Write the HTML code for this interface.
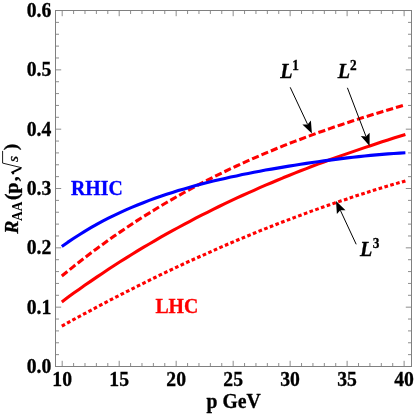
<!DOCTYPE html>
<html><head><meta charset="utf-8"><style>
html,body{margin:0;padding:0;background:#fff;}
svg{display:block;will-change:transform;font-family:"Liberation Serif",serif;font-weight:bold;}
text{stroke-width:0.3px;}
</style></head><body>
<svg width="415" height="415" viewBox="0 0 415 415">
<rect width="415" height="415" fill="#fff"/>
<g fill="none" stroke-linecap="butt" stroke-linejoin="round">
<path d="M61.8,326.2 L67.6,322.9 L73.4,319.7 L79.3,316.5 L85.1,313.4 L90.9,310.3 L96.7,307.2 L102.6,304.1 L108.4,301.0 L114.2,298.0 L120.0,295.0 L125.9,292.0 L131.7,289.1 L137.5,286.2 L143.3,283.3 L149.2,280.4 L155.0,277.5 L160.8,274.7 L166.6,271.9 L172.5,269.2 L178.3,266.4 L184.1,263.7 L189.9,261.0 L195.7,258.4 L201.6,255.8 L207.4,253.2 L213.2,250.6 L219.0,248.0 L224.9,245.5 L230.7,243.0 L236.5,240.5 L242.3,238.1 L248.2,235.7 L254.0,233.3 L259.8,230.9 L265.6,228.6 L271.5,226.3 L277.3,224.0 L283.1,221.8 L288.9,219.6 L294.7,217.4 L300.6,215.2 L306.4,213.1 L312.2,210.9 L318.0,208.9 L323.9,206.8 L329.7,204.8 L335.5,202.8 L341.3,200.8 L347.2,198.9 L353.0,196.9 L358.8,195.0 L364.6,193.2 L370.5,191.3 L376.3,189.5 L382.1,187.8 L387.9,186.0 L393.8,184.3 L399.6,182.6 L405.4,180.9" stroke="#f00" stroke-width="3.1" stroke-dasharray="3.65,2.42"/>
<path d="M61.8,301.9 L67.6,297.6 L73.4,293.3 L79.3,289.2 L85.1,285.1 L90.9,281.1 L96.7,277.1 L102.6,273.2 L108.4,269.3 L114.2,265.5 L120.0,261.8 L125.9,258.1 L131.7,254.5 L137.5,250.9 L143.3,247.4 L149.2,244.0 L155.0,240.6 L160.8,237.2 L166.6,233.9 L172.5,230.7 L178.3,227.5 L184.1,224.4 L189.9,221.3 L195.7,218.2 L201.6,215.2 L207.4,212.3 L213.2,209.4 L219.0,206.5 L224.9,203.7 L230.7,200.9 L236.5,198.2 L242.3,195.5 L248.2,192.9 L254.0,190.3 L259.8,187.7 L265.6,185.2 L271.5,182.7 L277.3,180.3 L283.1,177.8 L288.9,175.5 L294.7,173.1 L300.6,170.8 L306.4,168.6 L312.2,166.3 L318.0,164.1 L323.9,162.0 L329.7,159.8 L335.5,157.7 L341.3,155.6 L347.2,153.6 L353.0,151.6 L358.8,149.6 L364.6,147.6 L370.5,145.7 L376.3,143.7 L382.1,141.8 L387.9,140.0 L393.8,138.1 L399.6,136.3 L405.4,134.5" stroke="#f00" stroke-width="3.1"/>
<path d="M61.8,276.0 L67.6,271.3 L73.4,266.6 L79.3,262.0 L85.1,257.5 L90.9,253.0 L96.7,248.7 L102.6,244.4 L108.4,240.2 L114.2,236.1 L120.0,232.1 L125.9,228.1 L131.7,224.2 L137.5,220.4 L143.3,216.7 L149.2,213.1 L155.0,209.5 L160.8,205.9 L166.6,202.5 L172.5,199.1 L178.3,195.8 L184.1,192.5 L189.9,189.4 L195.7,186.2 L201.6,183.2 L207.4,180.2 L213.2,177.2 L219.0,174.3 L224.9,171.5 L230.7,168.7 L236.5,166.0 L242.3,163.3 L248.2,160.7 L254.0,158.1 L259.8,155.6 L265.6,153.1 L271.5,150.7 L277.3,148.3 L283.1,145.9 L288.9,143.6 L294.7,141.4 L300.6,139.2 L306.4,137.0 L312.2,134.9 L318.0,132.7 L323.9,130.7 L329.7,128.6 L335.5,126.6 L341.3,124.7 L347.2,122.7 L353.0,120.8 L358.8,118.9 L364.6,117.1 L370.5,115.3 L376.3,113.5 L382.1,111.7 L387.9,109.9 L393.8,108.2 L399.6,106.5 L405.4,104.8" stroke="#f00" stroke-width="3.1" stroke-dasharray="7.2,2.99"/>
<path d="M61.8,246.5 L67.6,242.4 L73.4,238.5 L79.3,234.7 L85.1,231.1 L90.9,227.7 L96.7,224.4 L102.6,221.2 L108.4,218.2 L114.2,215.3 L120.0,212.6 L125.9,209.9 L131.7,207.4 L137.5,205.0 L143.3,202.7 L149.2,200.4 L155.0,198.3 L160.8,196.3 L166.6,194.3 L172.5,192.4 L178.3,190.6 L184.1,188.9 L189.9,187.2 L195.7,185.6 L201.6,184.1 L207.4,182.6 L213.2,181.1 L219.0,179.7 L224.9,178.4 L230.7,177.1 L236.5,175.9 L242.3,174.6 L248.2,173.5 L254.0,172.3 L259.8,171.2 L265.6,170.1 L271.5,169.1 L277.3,168.1 L283.1,167.1 L288.9,166.1 L294.7,165.2 L300.6,164.3 L306.4,163.4 L312.2,162.5 L318.0,161.7 L323.9,160.9 L329.7,160.1 L335.5,159.4 L341.3,158.6 L347.2,157.9 L353.0,157.3 L358.8,156.6 L364.6,156.0 L370.5,155.4 L376.3,154.9 L382.1,154.4 L387.9,153.9 L393.8,153.5 L399.6,153.1 L405.4,152.8" stroke="#00f" stroke-width="3.1"/>
</g>
<rect x="55.5" y="10.5" width="356" height="356" fill="none" stroke="#808080" stroke-width="1"/>
<g stroke="#808080" stroke-width="0.9">
<line x1="62.20" y1="366.5" x2="62.20" y2="360.80"/>
<line x1="62.20" y1="10.5" x2="62.20" y2="16.20"/>
<line x1="73.60" y1="366.5" x2="73.60" y2="363.00"/>
<line x1="73.60" y1="10.5" x2="73.60" y2="14.00"/>
<line x1="84.99" y1="366.5" x2="84.99" y2="363.00"/>
<line x1="84.99" y1="10.5" x2="84.99" y2="14.00"/>
<line x1="96.39" y1="366.5" x2="96.39" y2="363.00"/>
<line x1="96.39" y1="10.5" x2="96.39" y2="14.00"/>
<line x1="107.79" y1="366.5" x2="107.79" y2="363.00"/>
<line x1="107.79" y1="10.5" x2="107.79" y2="14.00"/>
<line x1="119.19" y1="366.5" x2="119.19" y2="360.80"/>
<line x1="119.19" y1="10.5" x2="119.19" y2="16.20"/>
<line x1="130.58" y1="366.5" x2="130.58" y2="363.00"/>
<line x1="130.58" y1="10.5" x2="130.58" y2="14.00"/>
<line x1="141.98" y1="366.5" x2="141.98" y2="363.00"/>
<line x1="141.98" y1="10.5" x2="141.98" y2="14.00"/>
<line x1="153.38" y1="366.5" x2="153.38" y2="363.00"/>
<line x1="153.38" y1="10.5" x2="153.38" y2="14.00"/>
<line x1="164.77" y1="366.5" x2="164.77" y2="363.00"/>
<line x1="164.77" y1="10.5" x2="164.77" y2="14.00"/>
<line x1="176.17" y1="366.5" x2="176.17" y2="360.80"/>
<line x1="176.17" y1="10.5" x2="176.17" y2="16.20"/>
<line x1="187.57" y1="366.5" x2="187.57" y2="363.00"/>
<line x1="187.57" y1="10.5" x2="187.57" y2="14.00"/>
<line x1="198.96" y1="366.5" x2="198.96" y2="363.00"/>
<line x1="198.96" y1="10.5" x2="198.96" y2="14.00"/>
<line x1="210.36" y1="366.5" x2="210.36" y2="363.00"/>
<line x1="210.36" y1="10.5" x2="210.36" y2="14.00"/>
<line x1="221.76" y1="366.5" x2="221.76" y2="363.00"/>
<line x1="221.76" y1="10.5" x2="221.76" y2="14.00"/>
<line x1="233.16" y1="366.5" x2="233.16" y2="360.80"/>
<line x1="233.16" y1="10.5" x2="233.16" y2="16.20"/>
<line x1="244.55" y1="366.5" x2="244.55" y2="363.00"/>
<line x1="244.55" y1="10.5" x2="244.55" y2="14.00"/>
<line x1="255.95" y1="366.5" x2="255.95" y2="363.00"/>
<line x1="255.95" y1="10.5" x2="255.95" y2="14.00"/>
<line x1="267.35" y1="366.5" x2="267.35" y2="363.00"/>
<line x1="267.35" y1="10.5" x2="267.35" y2="14.00"/>
<line x1="278.74" y1="366.5" x2="278.74" y2="363.00"/>
<line x1="278.74" y1="10.5" x2="278.74" y2="14.00"/>
<line x1="290.14" y1="366.5" x2="290.14" y2="360.80"/>
<line x1="290.14" y1="10.5" x2="290.14" y2="16.20"/>
<line x1="301.54" y1="366.5" x2="301.54" y2="363.00"/>
<line x1="301.54" y1="10.5" x2="301.54" y2="14.00"/>
<line x1="312.93" y1="366.5" x2="312.93" y2="363.00"/>
<line x1="312.93" y1="10.5" x2="312.93" y2="14.00"/>
<line x1="324.33" y1="366.5" x2="324.33" y2="363.00"/>
<line x1="324.33" y1="10.5" x2="324.33" y2="14.00"/>
<line x1="335.73" y1="366.5" x2="335.73" y2="363.00"/>
<line x1="335.73" y1="10.5" x2="335.73" y2="14.00"/>
<line x1="347.12" y1="366.5" x2="347.12" y2="360.80"/>
<line x1="347.12" y1="10.5" x2="347.12" y2="16.20"/>
<line x1="358.52" y1="366.5" x2="358.52" y2="363.00"/>
<line x1="358.52" y1="10.5" x2="358.52" y2="14.00"/>
<line x1="369.92" y1="366.5" x2="369.92" y2="363.00"/>
<line x1="369.92" y1="10.5" x2="369.92" y2="14.00"/>
<line x1="381.32" y1="366.5" x2="381.32" y2="363.00"/>
<line x1="381.32" y1="10.5" x2="381.32" y2="14.00"/>
<line x1="392.71" y1="366.5" x2="392.71" y2="363.00"/>
<line x1="392.71" y1="10.5" x2="392.71" y2="14.00"/>
<line x1="404.11" y1="366.5" x2="404.11" y2="360.80"/>
<line x1="404.11" y1="10.5" x2="404.11" y2="16.20"/>
<line x1="55.5" y1="366.50" x2="61.20" y2="366.50"/>
<line x1="411.5" y1="366.50" x2="405.80" y2="366.50"/>
<line x1="55.5" y1="354.63" x2="59.00" y2="354.63"/>
<line x1="411.5" y1="354.63" x2="408.00" y2="354.63"/>
<line x1="55.5" y1="342.77" x2="59.00" y2="342.77"/>
<line x1="411.5" y1="342.77" x2="408.00" y2="342.77"/>
<line x1="55.5" y1="330.90" x2="59.00" y2="330.90"/>
<line x1="411.5" y1="330.90" x2="408.00" y2="330.90"/>
<line x1="55.5" y1="319.04" x2="59.00" y2="319.04"/>
<line x1="411.5" y1="319.04" x2="408.00" y2="319.04"/>
<line x1="55.5" y1="307.17" x2="61.20" y2="307.17"/>
<line x1="411.5" y1="307.17" x2="405.80" y2="307.17"/>
<line x1="55.5" y1="295.30" x2="59.00" y2="295.30"/>
<line x1="411.5" y1="295.30" x2="408.00" y2="295.30"/>
<line x1="55.5" y1="283.44" x2="59.00" y2="283.44"/>
<line x1="411.5" y1="283.44" x2="408.00" y2="283.44"/>
<line x1="55.5" y1="271.57" x2="59.00" y2="271.57"/>
<line x1="411.5" y1="271.57" x2="408.00" y2="271.57"/>
<line x1="55.5" y1="259.71" x2="59.00" y2="259.71"/>
<line x1="411.5" y1="259.71" x2="408.00" y2="259.71"/>
<line x1="55.5" y1="247.84" x2="61.20" y2="247.84"/>
<line x1="411.5" y1="247.84" x2="405.80" y2="247.84"/>
<line x1="55.5" y1="235.97" x2="59.00" y2="235.97"/>
<line x1="411.5" y1="235.97" x2="408.00" y2="235.97"/>
<line x1="55.5" y1="224.11" x2="59.00" y2="224.11"/>
<line x1="411.5" y1="224.11" x2="408.00" y2="224.11"/>
<line x1="55.5" y1="212.24" x2="59.00" y2="212.24"/>
<line x1="411.5" y1="212.24" x2="408.00" y2="212.24"/>
<line x1="55.5" y1="200.38" x2="59.00" y2="200.38"/>
<line x1="411.5" y1="200.38" x2="408.00" y2="200.38"/>
<line x1="55.5" y1="188.51" x2="61.20" y2="188.51"/>
<line x1="411.5" y1="188.51" x2="405.80" y2="188.51"/>
<line x1="55.5" y1="176.64" x2="59.00" y2="176.64"/>
<line x1="411.5" y1="176.64" x2="408.00" y2="176.64"/>
<line x1="55.5" y1="164.78" x2="59.00" y2="164.78"/>
<line x1="411.5" y1="164.78" x2="408.00" y2="164.78"/>
<line x1="55.5" y1="152.91" x2="59.00" y2="152.91"/>
<line x1="411.5" y1="152.91" x2="408.00" y2="152.91"/>
<line x1="55.5" y1="141.05" x2="59.00" y2="141.05"/>
<line x1="411.5" y1="141.05" x2="408.00" y2="141.05"/>
<line x1="55.5" y1="129.18" x2="61.20" y2="129.18"/>
<line x1="411.5" y1="129.18" x2="405.80" y2="129.18"/>
<line x1="55.5" y1="117.31" x2="59.00" y2="117.31"/>
<line x1="411.5" y1="117.31" x2="408.00" y2="117.31"/>
<line x1="55.5" y1="105.45" x2="59.00" y2="105.45"/>
<line x1="411.5" y1="105.45" x2="408.00" y2="105.45"/>
<line x1="55.5" y1="93.58" x2="59.00" y2="93.58"/>
<line x1="411.5" y1="93.58" x2="408.00" y2="93.58"/>
<line x1="55.5" y1="81.72" x2="59.00" y2="81.72"/>
<line x1="411.5" y1="81.72" x2="408.00" y2="81.72"/>
<line x1="55.5" y1="69.85" x2="61.20" y2="69.85"/>
<line x1="411.5" y1="69.85" x2="405.80" y2="69.85"/>
<line x1="55.5" y1="57.98" x2="59.00" y2="57.98"/>
<line x1="411.5" y1="57.98" x2="408.00" y2="57.98"/>
<line x1="55.5" y1="46.12" x2="59.00" y2="46.12"/>
<line x1="411.5" y1="46.12" x2="408.00" y2="46.12"/>
<line x1="55.5" y1="34.25" x2="59.00" y2="34.25"/>
<line x1="411.5" y1="34.25" x2="408.00" y2="34.25"/>
<line x1="55.5" y1="22.39" x2="59.00" y2="22.39"/>
<line x1="411.5" y1="22.39" x2="408.00" y2="22.39"/>
<line x1="55.5" y1="10.52" x2="61.20" y2="10.52"/>
<line x1="411.5" y1="10.52" x2="405.80" y2="10.52"/>
</g>
<g font-size="19.7px" fill="#000" stroke="#000">
<text transform="translate(62.2,385.6) scale(1,1.08)" text-anchor="middle">10</text>
<text transform="translate(119.2,385.6) scale(1,1.08)" text-anchor="middle">15</text>
<text transform="translate(176.2,385.6) scale(1,1.08)" text-anchor="middle">20</text>
<text transform="translate(233.2,385.6) scale(1,1.08)" text-anchor="middle">25</text>
<text transform="translate(290.1,385.6) scale(1,1.08)" text-anchor="middle">30</text>
<text transform="translate(347.1,385.6) scale(1,1.08)" text-anchor="middle">35</text>
<text transform="translate(404.1,385.6) scale(1,1.08)" text-anchor="middle">40</text>
<text transform="translate(51.3,372.9) scale(1,1.08)" text-anchor="end">0.0</text>
<text transform="translate(51.3,313.6) scale(1,1.08)" text-anchor="end">0.1</text>
<text transform="translate(51.3,254.2) scale(1,1.08)" text-anchor="end">0.2</text>
<text transform="translate(51.3,194.9) scale(1,1.08)" text-anchor="end">0.3</text>
<text transform="translate(51.3,135.6) scale(1,1.08)" text-anchor="end">0.4</text>
<text transform="translate(51.3,76.3) scale(1,1.08)" text-anchor="end">0.5</text>
<text transform="translate(51.3,16.9) scale(1,1.08)" text-anchor="end">0.6</text>
<text transform="translate(233.6,408.4) scale(1,1.08)" text-anchor="middle">p GeV</text>
</g>
<text transform="translate(71.0,194.8) scale(1,1.08)" font-size="19.8px" fill="#00f" stroke="#00f">RHIC</text>
<text transform="translate(155.4,313.0) scale(1,1.08)" font-size="19.8px" fill="#f00" stroke="#f00">LHC</text>
<g font-size="20.2px" fill="#000" stroke="#000" font-style="italic">
<text transform="translate(280.3,78.2) scale(1,1.0)" >L</text><text transform="translate(292.3,69.9) scale(1,1.08)" font-size="13.3px" font-style="normal">1</text>
<text transform="translate(337.8,78.1) scale(1,1.0)" >L</text><text transform="translate(350.1,70.1) scale(1,1.08)" font-size="13.3px" font-style="normal">2</text>
<text transform="translate(360.0,255.8) scale(1,1.0)" >L</text><text transform="translate(372.8,247.9) scale(1,1.08)" font-size="13.3px" font-style="normal">3</text>
</g>
<line x1="290.2" y1="87.3" x2="307.6" y2="124.4" stroke="#000" stroke-width="1"/><polygon points="311.9,133.5 302.4,124.4 307.6,124.4 310.9,120.4" fill="#000"/><line x1="347.4" y1="87.8" x2="366.0" y2="136.5" stroke="#000" stroke-width="1"/><polygon points="369.6,145.9 360.8,136.1 366.0,136.5 369.6,132.7" fill="#000"/><line x1="356.2" y1="244.3" x2="340.3" y2="210.2" stroke="#000" stroke-width="1"/><polygon points="336.0,201.0 345.5,210.2 340.3,210.2 336.9,214.1" fill="#000"/>
<g transform="translate(17.9,233.3) rotate(-90)" font-size="19.7px" fill="#000" stroke="#000">
<text x="-0.5" y="0" font-style="italic">R</text>
<text x="0" y="0" font-size="15.2px" stroke="none" transform="translate(12.4,4) scale(0.88,1)">AA</text>
<text x="33.2" y="0">(p</text><text x="52.0" y="0">,</text>
<path d="M59.2,-4.2 L61.0,-5.6 L65.2,3.2" fill="none" stroke="#000" stroke-width="1.9" stroke-linejoin="miter"/>
<path d="M65.5,4 L70.2,-15.3 L82.4,-15.3" fill="none" stroke="#000" stroke-width="0.9"/>
<text x="71.4" y="0" font-style="italic" font-weight="normal" font-size="15.5px">s</text>
<text x="83.1" y="-1">)</text>
</g>
</svg>
</body></html>
